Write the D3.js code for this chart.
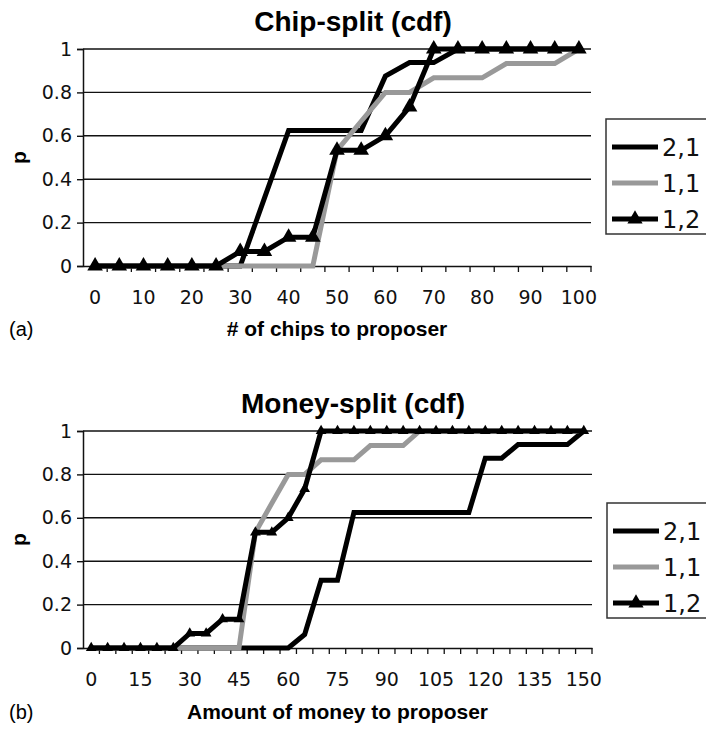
<!DOCTYPE html>
<html><head><meta charset="utf-8">
<script src="https://cdn.jsdelivr.net/npm/d3@7"></script>
<style>body{margin:0;background:#fff}svg{display:block}</style>
</head><body>
<svg id="c" width="706" height="729"></svg>
<script>
// ---- data ----
const chipCats = [0,5,10,15,20,25,30,35,40,45,50,55,60,65,70,75,80,85,90,95,100];
const chipTickLabels = [0,10,20,30,40,50,60,70,80,90,100];
const chip21 = [0,0,0,0,0,0,0,0.3125,0.625,0.625,0.625,0.625,0.875,0.9375,0.9375,1,1,1,1,1,1];
const chip11 = [0,0,0,0,0,0,0,0,0,0,0.533,0.667,0.8,0.8,0.867,0.867,0.867,0.933,0.933,0.933,1];
const chip12 = [0,0,0,0,0,0,0.067,0.067,0.133,0.133,0.533,0.533,0.6,0.733,1,1,1,1,1,1,1];

const moneyCats = [0,5,10,15,20,25,30,35,40,45,50,55,60,65,70,75,80,85,90,95,100,105,110,115,120,125,130,135,140,145,150];
const moneyTickLabels = [0,15,30,45,60,75,90,105,120,135,150];
const money21 = [0,0,0,0,0,0,0,0,0,0,0,0,0,0.0625,0.3125,0.3125,0.625,0.625,0.625,0.625,0.625,0.625,0.625,0.625,0.875,0.875,0.9375,0.9375,0.9375,0.9375,1];
const money11 = [0,0,0,0,0,0,0,0,0,0,0.533,0.667,0.8,0.8,0.867,0.867,0.867,0.933,0.933,0.933,1,1,1,1,1,1,1,1,1,1,1];
const money12 = [0,0,0,0,0,0,0.067,0.067,0.133,0.133,0.533,0.533,0.6,0.733,1,1,1,1,1,1,1,1,1,1,1,1,1,1,1,1,1];

const seriesNames = ["2,1","1,1","1,2"];
const yTicks = [0,0.2,0.4,0.6,0.8,1];
const yTickLabels = ["0","0.2","0.4","0.6","0.8","1"];

// ---- drawing ----
const svg = d3.select("#c");
const tickFont = "'DejaVu Sans', Verdana, sans-serif";
const boldFont = "'Liberation Sans', Arial, Helvetica, sans-serif";

function panel(cfg) {
  const g = svg.append("g");
  const x = d3.scaleBand().domain(cfg.cats).range([cfg.left, cfg.right]).paddingInner(0).paddingOuter(0);
  const y = d3.scaleLinear().domain([0,1]).range([cfg.bottom, cfg.top]);
  const cx = c => x(c) + x.bandwidth()/2;

  // gridlines
  g.append("g").selectAll("line").data(yTicks.filter(v => v > 0)).join("line")
    .attr("x1", cfg.left).attr("x2", cfg.right)
    .attr("y1", d => y(d)).attr("y2", d => y(d))
    .attr("stroke", "#111").attr("stroke-width", 1.4);

  // y axis
  const ya = g.append("g").attr("transform", `translate(${cfg.left},0)`)
    .call(d3.axisLeft(y).tickValues(yTicks).tickSize(6).tickPadding(5)
      .tickFormat((d,i) => yTickLabels[i]));
  ya.select(".domain").attr("stroke", "#111").attr("stroke-width", 1.5);
  ya.selectAll(".tick line").attr("stroke", "#111").attr("stroke-width", 1.4);
  ya.selectAll(".tick text").attr("font-family", tickFont).attr("font-size", 19).attr("fill", "#111");

  // x axis (labels via axis, boundary ticks via the band scale)
  const xa = g.append("g").attr("transform", `translate(0,${cfg.bottom})`)
    .call(d3.axisBottom(x).tickSize(0).tickPadding(cfg.tickPad)
      .tickFormat(d => cfg.tickLabels.includes(d) ? String(d) : ""));
  xa.select(".domain").attr("stroke", "#111").attr("stroke-width", 1.5);
  xa.selectAll(".tick text").attr("font-family", tickFont).attr("font-size", 19).attr("fill", "#111");
  const bounds = cfg.cats.map(c => x(c)).concat([cfg.right]).slice(1);
  g.append("g").selectAll("line").data(bounds).join("line")
    .attr("x1", d => d).attr("x2", d => d)
    .attr("y1", cfg.bottom).attr("y2", cfg.bottom + 6)
    .attr("stroke", "#111").attr("stroke-width", 1.3);

  // series
  const line = d3.line().x((d,i) => cx(cfg.cats[i])).y(d => y(d));
  const colors = ["#000", "#999", "#000"];
  cfg.series.forEach((s, k) => {
    g.append("path").datum(s).attr("d", line)
      .attr("fill", "none").attr("stroke", colors[k]).attr("stroke-width", 5)
      .attr("stroke-linejoin", "miter").attr("stroke-miterlimit", 3);
  });
  const tri = d3.symbol().type(d3.symbolTriangle).size(cfg.markerSize);
  g.append("g").selectAll("path").data(cfg.series[2]).join("path")
    .attr("d", tri)
    .attr("transform", (d,i) => `translate(${cx(cfg.cats[i])},${y(d)})`)
    .attr("fill", "#000");

  // titles
  g.append("text").attr("x", 353).attr("y", cfg.titleY).attr("text-anchor", "middle")
    .attr("font-family", boldFont).attr("font-weight", "bold").attr("font-size", 28)
    .text(cfg.title);
  g.append("text").attr("x", (cfg.left + cfg.right)/2).attr("y", cfg.xTitleY).attr("text-anchor", "middle")
    .attr("font-family", boldFont).attr("font-weight", "bold").attr("font-size", 21)
    .text(cfg.xTitle);
  g.append("text").attr("x", 9).attr("y", cfg.xTitleY)
    .attr("font-family", boldFont).attr("font-size", 20)
    .text(cfg.panelLabel);
  g.append("text").attr("transform", `translate(26,${(cfg.top + cfg.bottom)/2}) rotate(-90)`)
    .attr("text-anchor", "middle")
    .attr("font-family", boldFont).attr("font-weight", "bold").attr("font-size", 21)
    .text("p");

  // legend
  const lg = g.append("g").attr("transform", `translate(${cfg.legX},${cfg.legY})`);
  lg.append("rect").attr("x", 0).attr("y", 0).attr("width", 120).attr("height", 115)
    .attr("fill", "#fff").attr("stroke", "#333").attr("stroke-width", 1.5);
  seriesNames.forEach((name, k) => {
    const yy = 28 + k * 36;
    lg.append("line").attr("x1", 6).attr("x2", 52).attr("y1", yy).attr("y2", yy)
      .attr("stroke", colors[k]).attr("stroke-width", 5);
    if (k === 2) lg.append("path").attr("d", d3.symbol().type(d3.symbolTriangle).size(100)())
      .attr("transform", `translate(29,${yy})`).attr("fill", "#000");
    lg.append("text").attr("x", 56).attr("y", yy).attr("dy", "0.36em")
      .attr("font-family", tickFont).attr("font-size", 24).attr("fill", "#111").text(name);
  });
}

panel({cats: chipCats, tickLabels: chipTickLabels, series: [chip21, chip11, chip12],
  left: 83, right: 591, top: 49, bottom: 266, tickPad: 25, markerSize: 105,
  title: "Chip-split (cdf)", titleY: 31, xTitle: "# of chips to proposer", xTitleY: 336,
  panelLabel: "(a)", legX: 606, legY: 119});

panel({cats: moneyCats, tickLabels: moneyTickLabels, series: [money21, money11, money12],
  left: 83, right: 592, top: 431, bottom: 648, tickPad: 25, markerSize: 50,
  title: "Money-split (cdf)", titleY: 413, xTitle: "Amount of money to proposer", xTitleY: 719,
  panelLabel: "(b)", legX: 607, legY: 503});
</script>
</body></html>
